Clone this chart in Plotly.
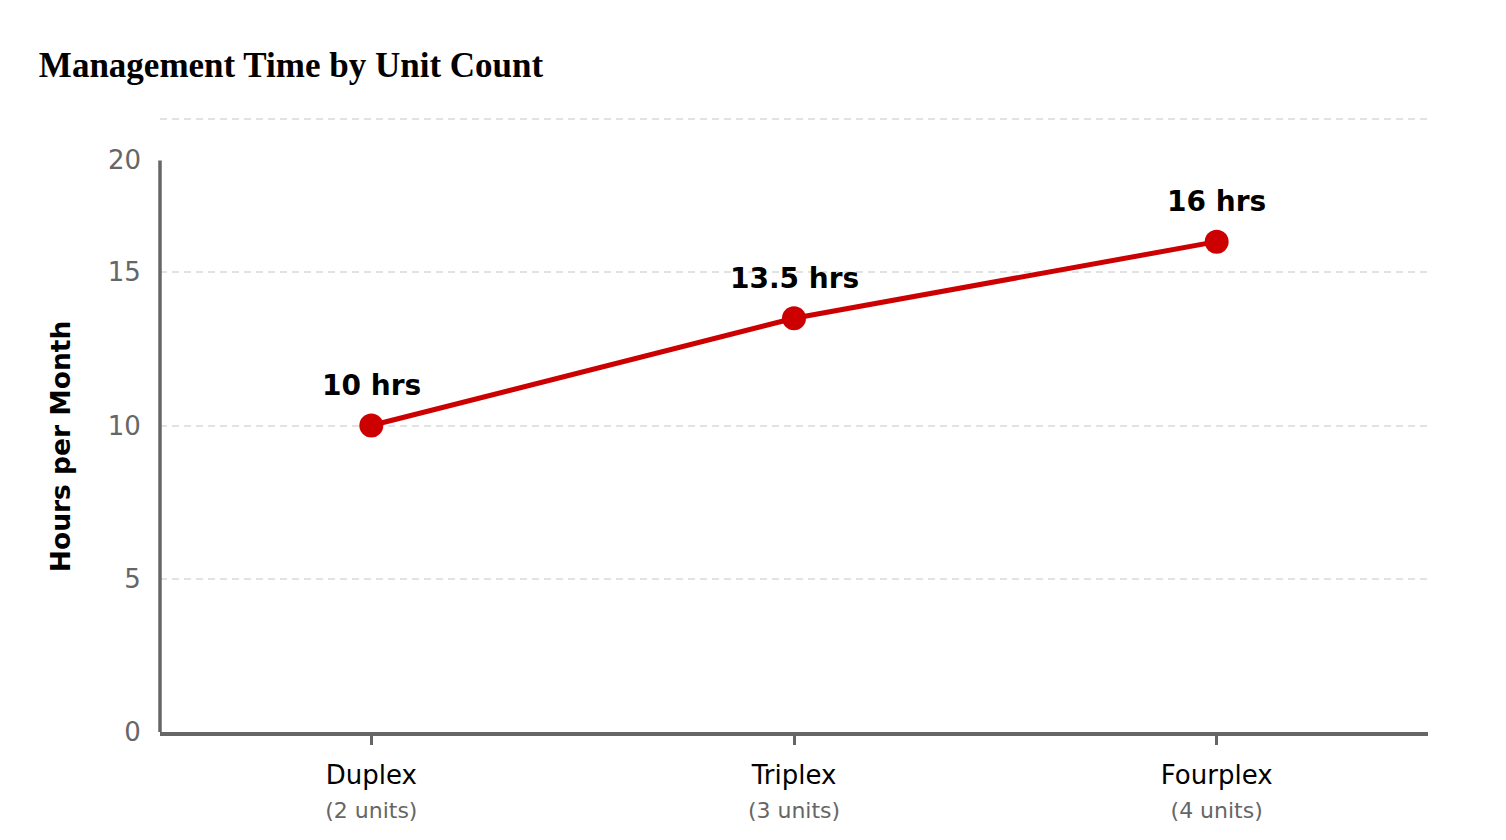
import plotly.graph_objects as go

# Data
categories = ["Duplex", "Triplex", "Fourplex"]
unit_labels = ["(2 units)", "(3 units)", "(4 units)"]
hours = [10, 13.5, 16]
hour_labels = ["10 hrs", "13.5 hrs", "16 hrs"]
y_ticks = [0, 5, 10, 15]

RED = "#cc0000"
AXIS_GRAY = "#666666"
FONT = "DejaVu Sans, sans-serif"

tick_text = [f"{c}<br><span style='font-size:22px;color:#666666'>{u}</span>"
             for c, u in zip(categories, unit_labels)]

fig = go.Figure()
fig.add_trace(go.Scatter(
    x=categories, y=hours,
    mode="lines+markers",
    line=dict(color=RED, width=5),
    marker=dict(color=RED, size=24),
    cliponaxis=False,
    hoverinfo="skip",
    showlegend=False,
))

# value labels above each point
for cat, val, lab in zip(categories, hours, hour_labels):
    fig.add_annotation(x=cat, y=val, text=f"<b>{lab}</b>", showarrow=False,
                       yanchor="middle", yshift=40,
                       font=dict(family=FONT, size=28, color="black"))

# the page body adds an 8px offset, margins allow for it
fig.update_layout(
    width=1506, height=840,
    paper_bgcolor="white", plot_bgcolor="white",
    margin=dict(l=152, r=86, t=108, b=116),
    title=dict(text="<b>Management Time by Unit Count</b>",
               x=0.0205, xanchor="left", y=0.932, yanchor="middle",
               font=dict(family="Liberation Serif, serif", size=35, color="black")),
    font=dict(family=FONT, color="black"),
)

fig.update_xaxes(
    range=[-0.5, 2.5],
    tickvals=categories, ticktext=tick_text,
    tickfont=dict(family=FONT, size=26, color="black"),
    showline=True, linecolor=AXIS_GRAY, linewidth=3.5,
    ticks="outside", ticklen=9, tickwidth=3, tickcolor=AXIS_GRAY,
    ticklabelstandoff=8,
    showgrid=False, zeroline=False, automargin=False,
)

# y axis: gridlines up to 20, the drawn spine, the "20" label and the title stop short of it
fig.update_yaxes(
    range=[0, 20.1], tickvals=y_ticks + [20], ticktext=[str(v) for v in y_ticks] + [""],
    tickfont=dict(family=FONT, size=26, color=AXIS_GRAY),
    ticks="outside", ticklen=13, tickcolor="rgba(0,0,0,0)",
    showline=False, zeroline=False, automargin=False,
    showgrid=True, gridcolor="#e2e2e2", gridwidth=1.5, griddash="7px,5px",
)

AXIS_TOP = 18.65
fig.add_shape(type="line", xref="paper", yref="y", x0=0, x1=0, y0=0, y1=AXIS_TOP,
              line=dict(color=AXIS_GRAY, width=3.5), layer="above")
fig.add_annotation(text="20", xref="paper", yref="y", x=0, y=AXIS_TOP,
                   xanchor="right", yanchor="middle", xshift=-17, showarrow=False,
                   font=dict(family=FONT, size=26, color=AXIS_GRAY))
fig.add_annotation(text="<b>Hours per Month</b>", xref="paper", yref="y",
                   x=0, y=AXIS_TOP / 2, xanchor="center", yanchor="middle",
                   xshift=-100, textangle=-90, showarrow=False,
                   font=dict(family=FONT, size=26.5, color="black"))

fig.write_html("out.html")
